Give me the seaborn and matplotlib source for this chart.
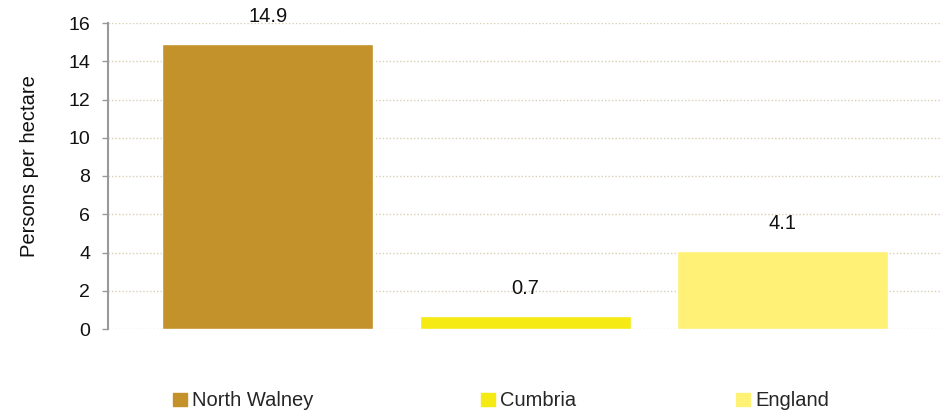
import matplotlib
matplotlib.use("Agg")
import matplotlib.pyplot as plt
import seaborn as sns
import pandas as pd

categories = ["North Walney", "Cumbria", "England"]
values = [14.9, 0.7, 4.1]
colors = ["#C4922A", "#F5EA14", "#FFF176"]
yticks = [0, 2, 4, 6, 8, 10, 12, 14, 16]

sns.set_theme(style="white")
plt.rcParams['font.family'] = ['Liberation Sans', 'DejaVu Sans']

df = pd.DataFrame({"cat": categories, "val": values})

fig = plt.figure(figsize=(9.46, 4.12), dpi=100)
ax = fig.add_axes([108/946, 1-329/412, (942-108)/946, (329-23)/412])

sns.barplot(data=df, x="cat", y="val", hue="cat", palette=colors, order=categories,
            hue_order=categories, width=0.82, dodge=False, legend=False, ax=ax, saturation=1)

ax.set_ylim(0, 16)
ax.set_xlim(-0.62, 2.618)
ax.set_yticks(yticks)
ax.set_yticklabels([str(t) for t in yticks], fontsize=14, color="#111111")
ax.set_xticks([])
ax.set_xlabel("")
ax.set_ylabel("Persons per hectare", fontsize=14.5, color="#111111")
ax.yaxis.set_label_coords(-0.083, 0.533)
ax.yaxis.grid(True, linestyle=(0, (1, 1.5)), color="#D8D0B4", linewidth=1)
ax.set_axisbelow(True)
for s in ["top", "right", "bottom"]:
    ax.spines[s].set_visible(False)
ax.spines["left"].set_color("#999999")
ax.spines["left"].set_linewidth(1.5)
ax.tick_params(axis="y", left=True, length=4.3, width=1, color="#999999", pad=8.6)

for c in ax.containers:
    ax.bar_label(c, labels=[f"{v:.1f}" for v in c.datavalues], padding=13, fontsize=14.5,
                 color="#111111")

legend_x = [173, 481, 736]
for cat, col, lx in zip(categories, colors, legend_x):
    h = plt.Rectangle((0, 0), 1, 1, color=col)
    leg = fig.legend([h], [cat], loc="center left", bbox_to_anchor=(lx/946, 1-401/412),
                     frameon=False, fontsize=14.5, handlelength=0.7, handleheight=0.65,
                     handletextpad=0.25, borderpad=0, borderaxespad=0)

fig.savefig("out.png", dpi=100)
